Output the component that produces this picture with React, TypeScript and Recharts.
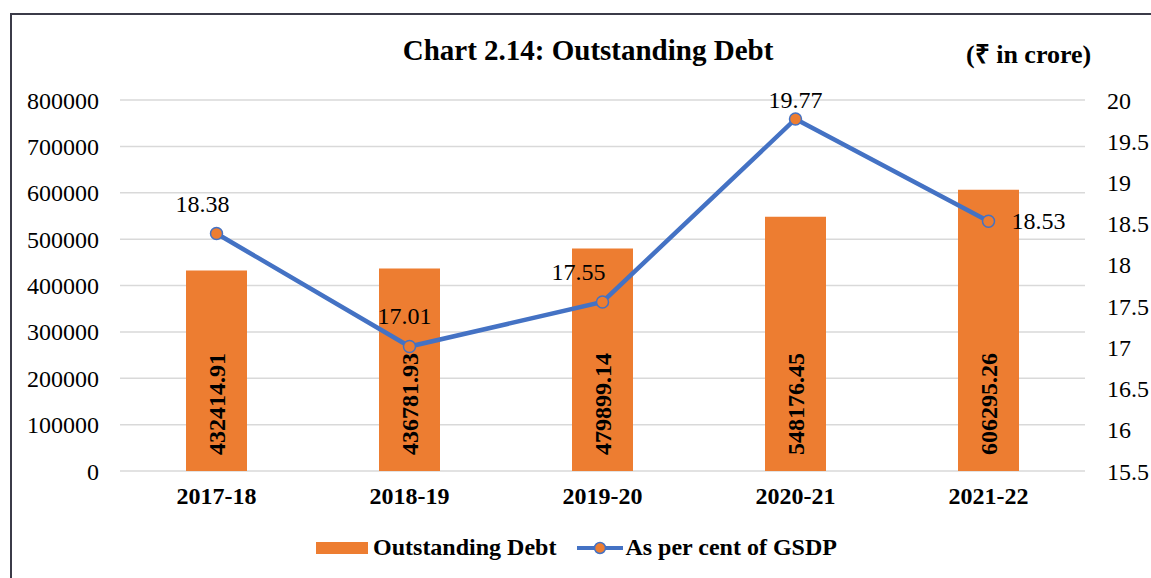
import { ComposedChart, Bar, Line, XAxis, YAxis, CartesianGrid, Legend, LabelList } from 'recharts';

const years = ['2017-18', '2018-19', '2019-20', '2020-21', '2021-22'];
const outstandingDebt = [432414.91, 436781.93, 479899.14, 548176.45, 606295.26];
const percentOfGsdp = [18.38, 17.01, 17.55, 19.77, 18.53];
const leftTicks = [0, 100000, 200000, 300000, 400000, 500000, 600000, 700000, 800000];
const rightTicks = [15.5, 16, 16.5, 17, 17.5, 18, 18.5, 19, 19.5, 20];

const data = years.map((year, i) => ({
  year,
  debt: outstandingDebt[i],
  gsdp: percentOfGsdp[i],
}));

const ORANGE = '#ED7D31';
const BLUE = '#4472C4';
const FONT = '"Liberation Serif", "Times New Roman", serif';

// where each line label sits relative to its point
const labelShift = [
  { dx: -14, dy: -30, anchor: 'middle' },
  { dx: -5, dy: -31, anchor: 'middle' },
  { dx: -24, dy: -30, anchor: 'middle' },
  { dx: 0, dy: -19, anchor: 'middle' },
  { dx: 23, dy: 0, anchor: 'start' },
];

const LineLabel = (props: any) => {
  const { x, y, value, index } = props;
  const s = labelShift[index];
  return (
    <text x={x + s.dx} y={y + s.dy} textAnchor={s.anchor} dominantBaseline="central" fontSize={24} fontFamily={FONT} fill="#000">
      {value.toFixed(2)}
    </text>
  );
};

const BarLabel = (props: any) => {
  const { x, y, width, height, value } = props;
  const cx = x + width / 2;
  const by = y + height - 16;
  return (
    <text x={cx} y={by} transform={`rotate(-90 ${cx} ${by})`} textAnchor="start" dominantBaseline="central" fontSize={24} fontWeight="bold" fontFamily={FONT} fill="#000">
      {value.toFixed(2)}
    </text>
  );
};

const renderLegend = () => (
  <div style={{ display: 'flex', justifyContent: 'center', alignItems: 'center', fontFamily: FONT, fontWeight: 'bold', fontSize: 24, color: '#000', paddingLeft: 2 }}>
    <span style={{ display: 'inline-block', width: 52, height: 12, background: ORANGE, marginRight: 5 }} />
    <span style={{ marginRight: 21 }}>Outstanding Debt</span>
    <svg width={46} height={14} style={{ marginRight: 2 }}>
      <line x1={0} y1={7} x2={46} y2={7} stroke={BLUE} strokeWidth={4} />
      <circle cx={23} cy={7} r={5.5} fill={ORANGE} stroke={BLUE} strokeWidth={1.5} />
    </svg>
    <span>As per cent of GSDP</span>
  </div>
);

export default function App() {
  return (
    <div style={{ position: 'absolute', left: 0, top: 0, width: 1151, height: 578, background: '#fff', overflow: 'hidden' }}>
      <div style={{ position: 'absolute', left: 10, top: 13, width: 1160, height: 600, borderLeft: '2px solid #3b3b48', borderTop: '2px solid #3b3b48' }} />
      <div style={{ position: 'absolute', left: 0, width: 1176, top: 34, textAlign: 'center', fontFamily: FONT, fontWeight: 'bold', fontSize: 29, color: '#000' }}>
        Chart 2.14: Outstanding Debt
      </div>
      <div style={{ position: 'absolute', left: 966, top: 35, fontFamily: FONT, fontWeight: 'bold', fontSize: 26, color: '#000' }}>
        (₹ in crore)
      </div>
      <ComposedChart width={1151} height={578} data={data} margin={{ top: 100, right: 0, bottom: 37, left: 0 }} style={{ position: 'absolute', left: 0, top: 0 }}>
        <CartesianGrid vertical={false} stroke="#d9d9d9" strokeWidth={1.5} yAxisId="left" />
        <XAxis dataKey="year" axisLine={false} tickLine={false} tickSize={0} tickMargin={16} height={40}
          tick={{ fontSize: 24, fontWeight: 'bold', fontFamily: FONT, fill: '#000' }} />
        <YAxis yAxisId="left" width={120} domain={[0, 800000]} ticks={leftTicks} axisLine={false} tickLine={false} tickSize={0} tickMargin={21}
          tick={{ fontSize: 24, fontFamily: FONT, fill: '#000' }} interval={0} />
        <YAxis yAxisId="right" orientation="right" width={66} domain={[15.5, 20]} ticks={rightTicks} axisLine={false} tickLine={false} tickSize={0} tickMargin={22}
          tick={{ fontSize: 24, fontFamily: FONT, fill: '#000' }} interval={0} />
        <Bar yAxisId="left" dataKey="debt" name="Outstanding Debt" fill={ORANGE} barSize={61} isAnimationActive={false}>
          <LabelList dataKey="debt" content={BarLabel} />
        </Bar>
        <Line yAxisId="right" dataKey="gsdp" name="As per cent of GSDP" stroke={BLUE} strokeWidth={4.5} isAnimationActive={false}
          dot={{ r: 6, fill: ORANGE, stroke: BLUE, strokeWidth: 1.5 }}>
          <LabelList dataKey="gsdp" content={LineLabel} />
        </Line>
        <Legend verticalAlign="bottom" content={renderLegend} wrapperStyle={{ position: 'absolute', left: 0, top: 534, width: 1151, height: 30 }} />
      </ComposedChart>
    </div>
  );
}
